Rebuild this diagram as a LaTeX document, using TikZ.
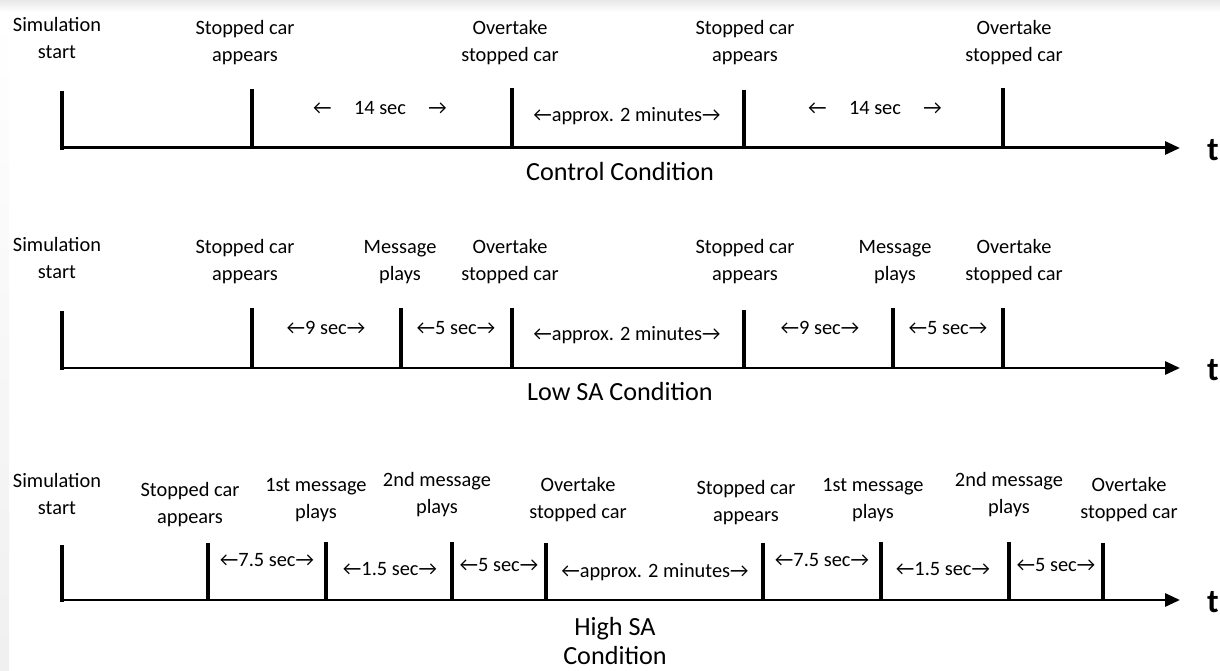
\documentclass[tikz,border=0pt]{standalone}
\usepackage{fontspec}
\setmainfont{Carlito}
\usetikzlibrary{arrows.meta, positioning}
\tikzset{
  % etichetta di un evento (sopra la tacca)
  evt/.style={align=center, inner sep=0pt, font=\fontsize{11.6}{15.3}\selectfont},
  % durata tra due eventi
  dur/.style={inner sep=0pt, font=\fontsize{11.6}{15.3}\selectfont},
  % nome della condizione
  cond/.style={align=center, inner sep=0pt, font=\fontsize{14.9}{16.6}\selectfont},
  % asse dei tempi
  taxis/.style={line width=1.7pt, -{Triangle[length=3mm, width=2.6mm]}},
  tickline/.style={line width=2pt},
  tlbl/.style={inner sep=0pt, font=\fontsize{19}{19}\selectfont\bfseries},
}
\newcommand{\evtick}[4]{%
  \coordinate (#1top) at (#2,#3);
  \coordinate (#1bot) at (#2,#4);
  \draw[tickline] (#1top) -- (#1bot);
}
\newcommand{\taxisline}[2]{%
  \coordinate (#1s) at (63,#2);
  \coordinate (#1e) at (1180,#2);
  \draw[taxis] (#1s) -- (#1e);
  \node[tlbl] (#1t) at (1213,#2+2) {t};
}
\begin{document}
\begin{tikzpicture}[x=0.02cm, y=-0.02cm]
  \useasboundingbox (0,0) rectangle (1220,671);
  % ombra del bordo
  \shade[top color=gray!18, bottom color=white] (0,0) rectangle (1220,12);
  \shade[top color=white, bottom color=gray!12] (0,12) rectangle (9,671);

  % condizione di controllo
  \taxisline{ax1}{148}
  \evtick{a1}{62}{91}{150}
  \evtick{a2}{252}{89}{148}
  \evtick{a3}{512}{88}{148}
  \evtick{a4}{744}{90}{148}
  \evtick{a5}{1003}{88}{148}
  \node[evt] (la1) at (57,38) {Simulation\\start};
  \node[evt] (la2) at (245,43) {Stopped car\\appears};
  \node[evt] (la3) at (510,43) {Overtake\\stopped car};
  \node[evt] (la4) at (745,43) {Stopped car\\appears};
  \node[evt] (la5) at (1014,43) {Overtake\\stopped car};
  \node[dur] (da1) at (380,108) {←\hspace{1.1em}14 sec\hspace{1.1em}→};
  \node[dur] (da2) at (627,116) {←approx. 2 minutes→};
  \node[dur] (da3) at (875,108) {←\hspace{1.1em}14 sec\hspace{1.1em}→};
  \node[cond] (ca) at (620,172) {Control Condition};

  % condizione Low SA
  \taxisline{ax2}{368}
  \evtick{b1}{62}{311}{370}
  \evtick{b2}{252}{308}{368}
  \evtick{b3}{401}{308}{368}
  \evtick{b4}{512}{308}{368}
  \evtick{b5}{744}{310}{368}
  \evtick{b6}{893}{308}{368}
  \evtick{b7}{1003}{308}{368}
  \node[evt] (lb1) at (57,258) {Simulation\\start};
  \node[evt] (lb2) at (245,262) {Stopped car\\appears};
  \node[evt] (lb3) at (400,262) {Message\\plays};
  \node[evt] (lb4) at (510,262) {Overtake\\stopped car};
  \node[evt] (lb5) at (745,262) {Stopped car\\appears};
  \node[evt] (lb6) at (895,262) {Message\\plays};
  \node[evt] (lb7) at (1014,262) {Overtake\\stopped car};
  \node[dur] (db1) at (326,328) {←9 sec→};
  \node[dur] (db2) at (456,328) {←5 sec→};
  \node[dur] (db3) at (627,335) {←approx. 2 minutes→};
  \node[dur] (db4) at (820,328) {←9 sec→};
  \node[dur] (db5) at (948,328) {←5 sec→};
  \node[cond] (cb) at (620,392) {Low SA Condition};

  % condizione High SA
  \taxisline{ax3}{600}
  \evtick{c1}{62}{545}{602}
  \evtick{c2}{208}{543}{600}
  \evtick{c3}{326}{542}{600}
  \evtick{c4}{452}{542}{600}
  \evtick{c5}{546}{543}{600}
  \evtick{c6}{763}{543}{600}
  \evtick{c7}{881}{542}{600}
  \evtick{c8}{1009}{542}{600}
  \evtick{c9}{1103}{543}{600}
  \node[evt] (lc1) at (57,494) {Simulation\\start};
  \node[evt] (lc2) at (190,505) {Stopped car\\appears};
  \node[evt] (lc3) at (316,500) {1st message\\plays};
  \node[evt] (lc4) at (437,495) {2nd message\\plays};
  \node[evt] (lc5) at (578,500) {Overtake\\stopped car};
  \node[evt] (lc6) at (746,503) {Stopped car\\appears};
  \node[evt] (lc7) at (873,500) {1st message\\plays};
  \node[evt] (lc8) at (1009,495) {2nd message\\plays};
  \node[evt] (lc9) at (1129,500) {Overtake\\stopped car};
  \node[dur] (dc1) at (267,560) {←7.5 sec→};
  \node[dur] (dc2) at (390,569) {←1.5 sec→};
  \node[dur] (dc3) at (499,565) {←5 sec→};
  \node[dur] (dc4) at (655,572) {←approx. 2 minutes→};
  \node[dur] (dc5) at (822,560) {←7.5 sec→};
  \node[dur] (dc6) at (943,569) {←1.5 sec→};
  \node[dur] (dc7) at (1056,565) {←5 sec→};
  \node[cond] (cc) at (615,641) {High SA\\Condition};
\end{tikzpicture}
\end{document}
